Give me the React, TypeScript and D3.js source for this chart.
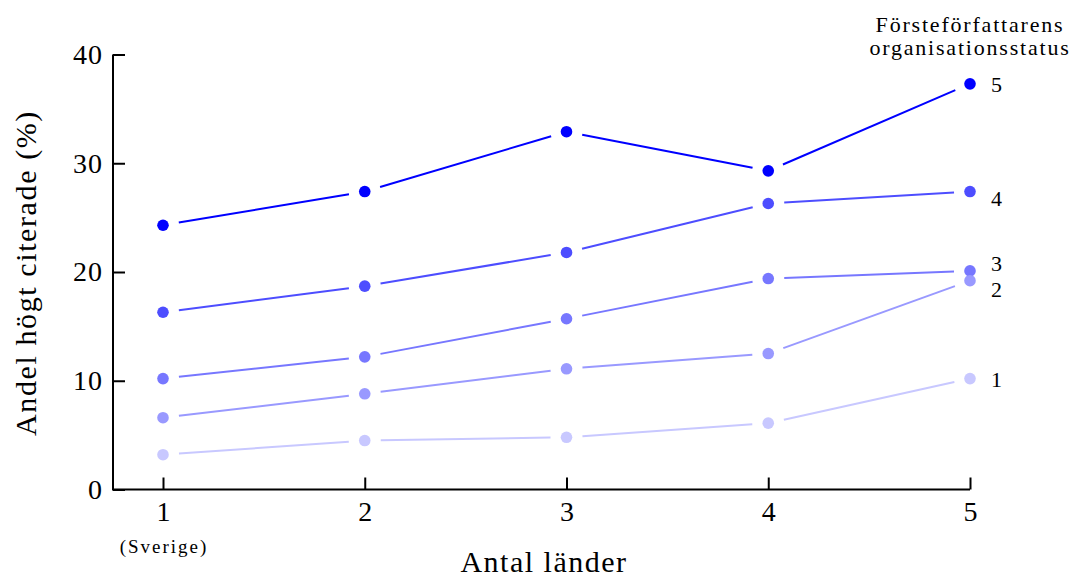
import React, { useEffect, useRef } from "react";
import * as d3 from "d3";

// Number of countries (x) and share of highly cited papers per first-author status group (%)
const countries = [1, 2, 3, 4, 5];
const statusGroups = ["5", "4", "3", "2", "1"];
const status5 = [24.3, 27.4, 32.9, 29.3, 37.3];
const status4 = [16.3, 18.7, 21.8, 26.3, 27.4];
const status3 = [10.2, 12.2, 15.7, 19.4, 20.1];
const status2 = [6.6, 8.8, 11.1, 12.5, 19.2];
const status1 = [3.2, 4.5, 4.8, 6.1, 10.2];
const yTicks = [0, 10, 20, 30, 40];

const seriesValues = [status5, status4, status3, status2, status1];
const seriesColors = ["#0000ff", "#4d4dff", "#7777ff", "#9999ff", "#c8c8ff"];
// vertical nudge of end labels so neighbouring labels don't collide
const labelNudge = [0, 7, -8, 9, 1];

const W = 1071;
const H = 576;
const FONT = "'Liberation Serif', 'Times New Roman', serif";

export default function App() {
  const ref = useRef<SVGSVGElement | null>(null);

  useEffect(() => {
    const svg = d3.select(ref.current);
    svg.selectAll("*").remove();

    const x = d3.scaleLinear().domain([1, 5]).range([163, 970]);
    const y = d3.scaleLinear().domain([0, 40]).range([489.5, 54.5]);
    const axisLeftX = 113;

    // axes
    const yAxis = d3
      .axisLeft(y)
      .tickValues(yTicks)
      .tickSizeInner(-12)
      .tickSizeOuter(0)
      .tickPadding(10)
      .tickFormat(d3.format("d"));
    const gy = svg
      .append("g")
      .attr("transform", `translate(${axisLeftX},0)`)
      .call(yAxis);
    gy.select(".domain").remove();
    gy.selectAll("line").attr("stroke", "#000").attr("stroke-width", 2);
    gy.selectAll("text")
      .attr("font-family", FONT)
      .attr("font-size", 28)
      .attr("letter-spacing", 1)
      .attr("fill", "#000");

    const xAxis = d3
      .axisBottom(x)
      .tickValues(countries)
      .tickSizeInner(-12)
      .tickSizeOuter(0)
      .tickPadding(12)
      .tickFormat(d3.format("d"));
    const gx = svg
      .append("g")
      .attr("transform", `translate(0,${y(0)})`)
      .call(xAxis);
    gx.select(".domain").remove();
    gx.selectAll("line").attr("stroke", "#000").attr("stroke-width", 2);
    gx.selectAll("text")
      .attr("font-family", FONT)
      .attr("font-size", 28)
      .attr("fill", "#000");

    svg
      .append("path")
      .attr("d", `M${axisLeftX},${y(40)}V${y(0)}H${x(5)}`)
      .attr("fill", "none")
      .attr("stroke", "#000")
      .attr("stroke-width", 2);

    // axis titles
    svg
      .append("text")
      .attr("x", x(1) + 1)
      .attr("y", 553)
      .attr("text-anchor", "middle")
      .attr("font-family", FONT)
      .attr("font-size", 19)
      .attr("letter-spacing", 2)
      .text("(Sverige)");

    svg
      .append("text")
      .attr("x", 544)
      .attr("y", 572)
      .attr("text-anchor", "middle")
      .attr("font-family", FONT)
      .attr("font-size", 30)
      .attr("letter-spacing", 1.5)
      .text("Antal länder");

    svg
      .append("text")
      .attr("transform", `translate(36,${(113 + 433) / 2}) rotate(-90)`)
      .attr("text-anchor", "middle")
      .attr("font-family", FONT)
      .attr("font-size", 30)
      .attr("letter-spacing", 1.6)
      .text("Andel högt citerade (%)");

    // legend title
    const title = svg
      .append("text")
      .attr("text-anchor", "middle")
      .attr("font-family", FONT)
      .attr("font-size", 22)
      .attr("letter-spacing", 1.8);
    title.append("tspan").attr("x", 970).attr("y", 32).text("Försteförfattarens");
    title.append("tspan").attr("x", 970).attr("y", 55).text("organisationsstatus");

    // series: line segments stop short of each marker
    const gap = 16;
    seriesValues.forEach((vals, si) => {
      const color = seriesColors[si];
      const pts = vals.map((v, i) => [x(countries[i]), y(v)] as [number, number]);
      const g = svg.append("g");
      for (let i = 0; i < pts.length - 1; i++) {
        const [x0, y0] = pts[i];
        const [x1, y1] = pts[i + 1];
        const len = Math.hypot(x1 - x0, y1 - y0);
        const ux = (x1 - x0) / len;
        const uy = (y1 - y0) / len;
        g.append("line")
          .attr("x1", x0 + ux * gap)
          .attr("y1", y0 + uy * gap)
          .attr("x2", x1 - ux * gap)
          .attr("y2", y1 - uy * gap)
          .attr("stroke", color)
          .attr("stroke-width", 2);
      }
      g.selectAll("circle")
        .data(pts)
        .join("circle")
        .attr("cx", (d) => d[0])
        .attr("cy", (d) => d[1])
        .attr("r", 5.8)
        .attr("fill", color);

      const last = pts[pts.length - 1];
      svg
        .append("text")
        .attr("x", last[0] + 21)
        .attr("y", last[1] + labelNudge[si])
        .attr("dy", "0.35em")
        .attr("font-family", FONT)
        .attr("font-size", 22)
        .attr("fill", "#000")
        .text(statusGroups[si]);
    });
  }, []);

  return (
    <svg
      ref={ref}
      width={W}
      height={H}
      style={{ position: "absolute", left: 0, top: 0, background: "#fff" }}
    />
  );
}
